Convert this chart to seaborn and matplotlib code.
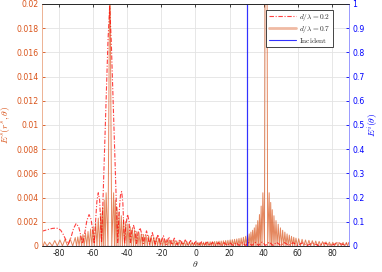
import numpy as np
import pandas as pd
import matplotlib
matplotlib.use("Agg")
import matplotlib.pyplot as plt
import seaborn as sns
from matplotlib.lines import Line2D

# ---------------- data ----------------
# d/lambda = 0.2 pattern: angle (deg) and scattered field (x 1e-3)
d02_angle = [-90, -88, -86, -84, -82, -80.5, -79, -77.5, -76, -74.5, -73, -71.5, -70, -68.5,
             -67.3, -66.2, -65, -63.7, -62.4, -61.2, -60.2, -59.4, -58.6, -57.8, -57, -56.2,
             -55.6, -55.1, -54.3, -53.3, -52.3, -51.3, -50.3, -49.4, -48.4, -47.4, -46.4, -45.6,
             -44.9, -44.0, -43.3, -42.6, -42.0, -41.5, -40.8, -39.8, -38.9, -38.2, -37.3, -36.3,
             -35.4, -34.6, -33.6, -32.5, -31.5, -30.6, -28.7, -27.0, -25.3, -23.6, -22.0, -20.4,
             -18.8, -17.2, -15.6, -14.0, -12.4, -10.8, -9.2, -7.6, -6.0, -4.4, -2.8, -1.2, 0.4,
             2.0, 3.6, 5.2, 6.8, 8.4, 10.0, 11.7, 13.4, 15.1, 16.8, 18.5, 20.2, 22.0, 23.8, 25.6,
             27.4, 29.3, 31.2, 33.1, 35.0, 37.0, 39.0, 41.1, 43.2, 45.4, 47.6, 49.9, 52.2, 54.7,
             57.2, 59.9, 62.6, 65.6, 68.6, 72.0, 75.5, 79.5, 83.5, 87.0, 90.0]
d02_milli = [1.22, 1.30, 1.38, 1.45, 1.48, 1.45, 1.30, 0.95, 0.50, 0.15, 0.70, 1.45, 1.85, 1.60,
             0.90, 0.20, 1.00, 2.10, 2.60, 2.20, 1.20, 0.20, 2.00, 3.70, 4.40, 3.80,
             2.00, 0.30, 3.50, 8.00, 12.5, 17.0, 19.8, 17.0, 12.5, 8.00, 3.50, 0.30,
             2.50, 4.20, 4.50, 3.60, 1.50, 0.20, 1.80, 2.60, 2.00, 0.30, 1.30, 1.70,
             1.20, 0.20, 1.10, 1.50, 1.00, 0.20, 1.25, 0.15, 1.10, 0.15, 0.95, 0.15,
             0.85, 0.12, 0.75, 0.10, 0.65, 0.10, 0.55, 0.10, 0.50, 0.10, 0.45, 0.10, 0.40,
             0.08, 0.35, 0.08, 0.32, 0.06, 0.30, 0.06, 0.28, 0.05, 0.27, 0.05, 0.26, 0.05, 0.26, 0.05,
             0.27, 0.05, 0.28, 0.05, 0.30, 0.05, 0.32, 0.05, 0.32, 0.05, 0.30, 0.05, 0.28, 0.05,
             0.27, 0.05, 0.26, 0.05, 0.25, 0.05, 0.25, 0.05, 0.26, 0.10, 0.25]

# d/lambda = 0.7 pattern: lobe maxima (deg) and their heights (x 1e-3); nulls lie between lobes
d07_peak_angle = [-90, -88.5, -85.5, -82.5, -79.5, -76.5, -73.5, -70.5,
                  -69, -67.5, -66, -64.5, -63, -61.5, -60, -58.5, -57, -55.5,
                  -54.5, -53.5, -52.4, -50.2, -48.0, -47.0, -46.0,
                  -44.8, -43.5, -42.2, -40.9, -39.6, -38.3, -37, -35.7, -34.4, -33.1, -31.8, -30.5,
                  -29, -27.5, -26, -24.5, -23, -21.5, -20, -18.5, -17, -15.5, -14, -12.5, -11,
                  -9.5, -8, -6.5, -5, -3.5, -2, -0.5,
                  0.8, 2.1, 3.4, 4.7, 6, 7.3, 8.6, 9.9, 11.2, 12.5, 13.8, 15.1, 16.4, 17.7, 19,
                  20.3, 21.6, 22.9, 24.2, 25.5, 26.8, 28.1, 29.4,
                  30.5, 31.5, 32.5, 33.5, 34.5, 35.5, 36.5, 37.5, 38.5, 39.5, 41.4,
                  43.2, 44.1, 45.0, 46.0,
                  47.2, 48.5, 49.8, 51.1, 52.4, 53.7, 55, 56.3, 57.6, 58.9,
                  60.5, 62.5, 64.5, 66.5, 68.5, 70.5, 72.5, 74.5, 76.5, 78.5, 80.5, 82.5, 84.5,
                  86.5, 88.5, 90]
d07_peak_milli = [0.35, 0.35, 0.30, 0.45, 0.50, 0.55, 0.60, 0.70,
                  0.75, 0.85, 0.95, 1.05, 1.20, 1.40, 1.60, 1.90, 2.30, 2.70,
                  3.20, 3.80, 4.40, 25.0, 4.40, 3.80, 3.20,
                  2.80, 2.50, 2.20, 2.00, 1.80, 1.60, 1.45, 1.30, 1.20, 1.10, 1.00, 0.95,
                  0.90, 0.85, 0.80, 0.75, 0.70, 0.65, 0.60, 0.55, 0.52, 0.50, 0.47, 0.45, 0.42,
                  0.40, 0.38, 0.36, 0.35, 0.33, 0.32, 0.30,
                  0.30, 0.30, 0.31, 0.32, 0.33, 0.34, 0.35, 0.36, 0.37, 0.38, 0.40, 0.41, 0.43, 0.45, 0.47,
                  0.50, 0.52, 0.55, 0.58, 0.62, 0.66, 0.72, 0.80,
                  0.90, 1.00, 1.15, 1.30, 1.50, 1.75, 2.10, 2.60, 3.30, 4.40, 60.0,
                  4.40, 3.60, 3.00, 2.50,
                  2.10, 1.80, 1.50, 1.30, 1.15, 1.00, 0.90, 0.80, 0.72, 0.65,
                  0.60, 0.55, 0.50, 0.47, 0.44, 0.41, 0.38, 0.36, 0.34, 0.32, 0.30, 0.30, 0.28,
                  0.30, 0.30, 0.30]

# incident field (right axis): a single plane wave arriving at 30 deg
inc_angle = [-90, 30, 30, 30, 90]
inc_value = [0, 0, 1, 0, 0]

x_ticks = [-80, -60, -40, -20, 0, 20, 40, 60, 80]
yl_ticks = [0, 0.002, 0.004, 0.006, 0.008, 0.01, 0.012, 0.014, 0.016, 0.018, 0.02]
yr_ticks = [0, 0.1, 0.2, 0.3, 0.4, 0.5, 0.6, 0.7, 0.8, 0.9, 1]
labels = [r'$d/\lambda = 0.2$', r'$d/\lambda = 0.7$', r'$\mathrm{Incident}$']

# ---------------- build tables ----------------
df02 = pd.DataFrame({"theta": d02_angle, "E": np.array(d02_milli) * 1e-3})

pa = np.array(d07_peak_angle, dtype=float)
pv = np.array(d07_peak_milli) * 1e-3
null_a = (pa[:-1] + pa[1:]) / 2
th07 = np.empty(len(pa) + len(null_a))
E07 = np.empty_like(th07)
th07[0::2] = pa
th07[1::2] = null_a
E07[0::2] = pv
E07[1::2] = 0.0
df07 = pd.DataFrame({"theta": th07, "E": E07})
dfi = pd.DataFrame({"theta": inc_angle, "E": inc_value})

# ---------------- style ----------------
sns.set_style("white")
plt.rcParams['font.family'] = ['DejaVu Sans']
plt.rcParams['mathtext.fontset'] = 'cm'
plt.rcParams['axes.unicode_minus'] = False

ORANGE = '#D95319'
BLUE = '#0000FF'
DARK = '#262626'

fig = plt.figure(figsize=(3.82, 2.72), dpi=100)
ax = fig.add_axes([0.1099, 0.0956, 0.8037, 0.8897])

sns.lineplot(data=df07, x="theta", y="E", ax=ax, color=ORANGE, alpha=0.7, lw=0.7,
             sort=False, estimator=None)
sns.lineplot(data=df02, x="theta", y="E", ax=ax, color='#FF0000', alpha=0.75, lw=0.8,
             linestyle=(0, (4, 1.5, 1, 1.5)), sort=False, estimator=None)

ax.set_xlim(-90, 90)
ax.set_ylim(0, 0.02)
ax.set_xticks(x_ticks)
ax.set_yticks(yl_ticks)
ax.set_yticklabels([f"{v:g}" for v in yl_ticks])
ax.grid(True, color='#E3E3E3', lw=0.6)
ax.set_axisbelow(True)

ax2 = ax.twinx()
sns.lineplot(data=dfi, x="theta", y="E", ax=ax2, color=BLUE, alpha=0.8, lw=0.8,
             sort=False, estimator=None)
ax2.set_ylim(0, 1)
ax2.set_yticks(yr_ticks)
ax2.set_yticklabels([f"{v:g}" for v in yr_ticks])
ax2.set_xlim(-90, 90)

# spines & ticks
for a in (ax, ax2):
    for s in a.spines.values():
        s.set_linewidth(0.6)
    a.spines['top'].set_color(DARK)
    a.spines['bottom'].set_color(DARK)
    a.spines['left'].set_color('#EDB394')
    a.spines['right'].set_color('#9A9AFF')

ax.tick_params(axis='x', direction='in', length=2.2, width=0.6, colors=DARK,
               labelsize=5.6, top=True, pad=2.5, labelcolor='#262626')
ax.tick_params(axis='y', direction='in', length=2.2, width=0.6, colors=ORANGE,
               labelsize=5.6, pad=2.5)
ax2.tick_params(axis='y', direction='in', length=2.2, width=0.6, colors=BLUE,
                labelsize=5.6, pad=2.5)

ax.set_xlabel(r'$\theta$', fontsize=7, labelpad=0.5, color=DARK)
ax.set_ylabel(r'$E^s(r^s,\theta)$', fontsize=7, color=ORANGE, labelpad=3)
ax2.set_ylabel(r'$E^i(\theta)$', fontsize=7, color=BLUE, rotation=90, labelpad=0.5)

h02 = ax.get_lines()[1]
h07 = Line2D([], [], color=ORANGE, alpha=0.4, lw=2.0)
hin = ax2.get_lines()[0]
leg = ax2.legend([h02, h07, hin], labels, loc='upper right', bbox_to_anchor=(0.948, 0.977),
                 fontsize=5.3, frameon=True, fancybox=False, framealpha=1,
                 edgecolor=DARK, handlelength=3.8, handletextpad=0.4,
                 labelspacing=0.12, borderpad=0.3, borderaxespad=0)
leg.get_frame().set_linewidth(0.6)

fig.savefig("out.png", dpi=100)
